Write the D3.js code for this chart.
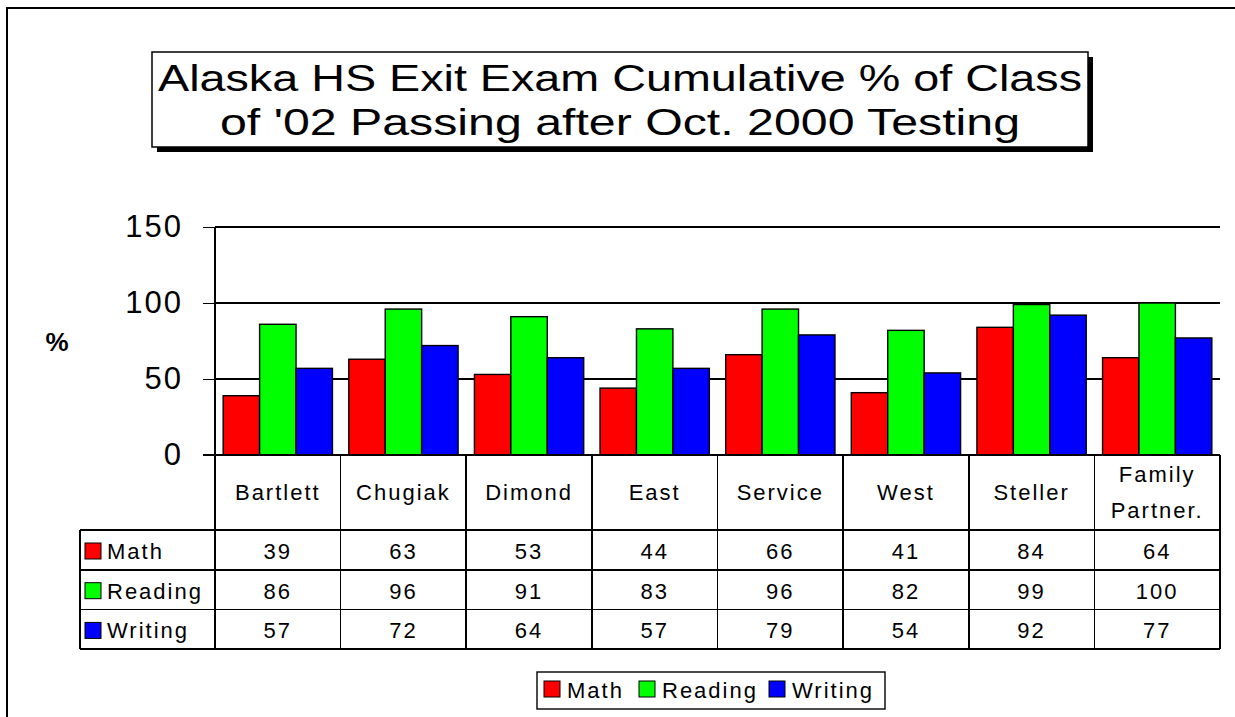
<!DOCTYPE html>
<html>
<head>
<meta charset="utf-8">
<title>Alaska HS Exit Exam</title>
<script src="https://cdn.jsdelivr.net/npm/d3@7"></script>
<style>
    html, body { margin: 0; padding: 0; background: #fff; }
    svg { display: block; font-family: "Liberation Sans", Arial, sans-serif; }
    line { shape-rendering: crispEdges; }
</style>
</head>
<body>
<div class="svg-container"></div>
<script>
// Data
const schools = ['Bartlett', 'Chugiak', 'Dimond', 'East', 'Service', 'West', 'Steller', 'Family Partner.'];
const subjects = ['Math', 'Reading', 'Writing'];
const mathValues = [39, 63, 53, 44, 66, 41, 84, 64];
const readingValues = [86, 96, 91, 83, 96, 82, 99, 100];
const writingValues = [57, 72, 64, 57, 79, 54, 92, 77];
const yTicks = [0, 50, 100, 150];
const titleLines = ['Alaska HS Exit Exam Cumulative % of Class', "of '02 Passing after Oct. 2000 Testing"];

/**
 * Chart Manager
 *          draws the column chart + its data table
 */
const chartManager = (() => {
    const SCREEN = Object.assign({}, {
        WIDTH: 1235,
        HEIGHT: 717
    });

    const PLOT = { LEFT: 215, RIGHT: 1220, TOP: 227, BOTTOM: 455 };
    const TABLE = { LEFT: 80, HEAD: 530, ROW: 39.7 };
    const COLORS = { Math: '#ff0000', Reading: '#00ff00', Writing: '#0000ff' };
    const FONT = 22;
    const LINE_W = 1.6;

    const seriesValues = {
        Math: mathValues,
        Reading: readingValues,
        Writing: writingValues
    };

    const x = d3.scaleBand()
                .domain(schools)
                .range([PLOT.LEFT, PLOT.RIGHT])
                .paddingInner(0.13)
                .paddingOuter(0.065);

    const xSub = d3.scaleBand()
                   .domain(subjects)
                   .range([0, x.bandwidth()]);

    const y = d3.scaleLinear()
                .domain([0, 150])
                .range([PLOT.BOTTOM, PLOT.TOP]);

    // column edges of the table (full steps, not the padded bands)
    const colLeft = (d) => x(d) - x.step() * x.paddingInner() / 2;

    const initSVG = () => {
        let svg = d3.select('.svg-container').append('svg')
                    .attr('width', SCREEN.WIDTH)
                    .attr('height', SCREEN.HEIGHT);

        // outer frame
        svg.append('rect')
           .attr('x', 7).attr('y', 8)
           .attr('width', SCREEN.WIDTH + 20).attr('height', SCREEN.HEIGHT + 20)
           .attr('fill', 'none')
           .attr('stroke', '#000')
           .attr('stroke-width', 2);
        return svg;
    };

    const drawTitle = (svg) => {
        let g = svg.append('g');
        g.append('rect')
         .attr('x', 157).attr('y', 57).attr('width', 936).attr('height', 95)
         .attr('fill', '#000');
        g.append('rect')
         .attr('x', 152).attr('y', 52).attr('width', 936).attr('height', 95)
         .attr('fill', '#fff').attr('stroke', '#000').attr('stroke-width', 1.5);

        const widths = [924, 800];
        g.selectAll('text.title')
         .data(titleLines)
         .enter()
         .append('text')
         .attr('class', 'title')
         .attr('x', 620)
         .attr('y', (d, i) => 91 + i * 44)
         .attr('text-anchor', 'middle')
         .attr('font-size', 37)
         .attr('textLength', (d, i) => widths[i])
         .attr('lengthAdjust', 'spacingAndGlyphs')
         .text(d => d);
    };

    const drawAxis = (svg) => {
        // grid lines
        svg.append('g')
           .selectAll('line')
           .data(yTicks.filter(t => t > 0))
           .enter()
           .append('line')
           .attr('x1', PLOT.LEFT).attr('x2', PLOT.RIGHT)
           .attr('y1', d => y(d)).attr('y2', d => y(d))
           .attr('stroke', '#000').attr('stroke-width', LINE_W);

        let axis = svg.append('g')
                      .attr('transform', `translate(${PLOT.LEFT},0)`)
                      .call(d3.axisLeft(y).tickValues(yTicks).tickSize(12).tickPadding(20).tickFormat(d3.format('d')));
        axis.select('.domain').attr('stroke', '#000').attr('stroke-width', LINE_W)
            .attr('shape-rendering', 'crispEdges')
            .attr('d', `M0,${PLOT.TOP}V${PLOT.BOTTOM}`);
        axis.selectAll('.tick line').attr('stroke', '#000').attr('stroke-width', LINE_W);
        axis.selectAll('.tick text')
            .attr('font-size', 31)
            .attr('letter-spacing', 2)
            .attr('fill', '#000')
            .attr('font-family', '"Liberation Sans", Arial, sans-serif');

        svg.append('text')
           .attr('x', 57).attr('y', 351)
           .attr('text-anchor', 'middle')
           .attr('font-size', 26)
           .attr('font-weight', 'bold')
           .text('%');
    };

    const drawBars = (svg) => {
        let groups = svg.append('g')
                        .selectAll('g')
                        .data(schools)
                        .enter()
                        .append('g')
                        .attr('transform', d => `translate(${x(d)},0)`);

        groups.selectAll('rect')
              .data((d, i) => subjects.map(s => ({ key: s, value: seriesValues[s][i] })))
              .enter()
              .append('rect')
              .attr('x', d => xSub(d.key))
              .attr('y', d => y(d.value))
              .attr('width', xSub.bandwidth())
              .attr('height', d => y(0) - y(d.value))
              .attr('fill', d => COLORS[d.key])
              .attr('stroke', '#000')
              .attr('stroke-width', 1.4);
    };

    const drawSwatch = (g, xPos, yPos, color) => {
        g.append('rect')
         .attr('x', xPos).attr('y', yPos)
         .attr('width', 16).attr('height', 16)
         .attr('fill', color)
         .attr('stroke', '#000')
         .attr('stroke-width', 1);
    };

    const drawTable = (svg) => {
        let g = svg.append('g');
        const rowTop = (i) => TABLE.HEAD + i * TABLE.ROW;
        const bottom = rowTop(subjects.length);

        // baseline under the bars
        g.append('line')
         .attr('x1', PLOT.LEFT - 12).attr('x2', PLOT.RIGHT)
         .attr('y1', PLOT.BOTTOM).attr('y2', PLOT.BOTTOM)
         .attr('stroke', '#000').attr('stroke-width', LINE_W);

        // horizontal rules
        g.selectAll('line.hrow')
         .data(d3.range(subjects.length + 1))
         .enter()
         .append('line')
         .attr('class', 'hrow')
         .attr('x1', TABLE.LEFT).attr('x2', PLOT.RIGHT)
         .attr('y1', d => rowTop(d)).attr('y2', d => rowTop(d))
         .attr('stroke', '#000').attr('stroke-width', LINE_W);

        // vertical rules
        const cols = schools.map(colLeft).concat([PLOT.RIGHT]);
        g.selectAll('line.vcol')
         .data(cols)
         .enter()
         .append('line')
         .attr('class', 'vcol')
         .attr('x1', d => d).attr('x2', d => d)
         .attr('y1', PLOT.BOTTOM).attr('y2', bottom)
         .attr('stroke', '#000').attr('stroke-width', LINE_W);
        g.append('line')
         .attr('x1', TABLE.LEFT).attr('x2', TABLE.LEFT)
         .attr('y1', TABLE.HEAD).attr('y2', bottom)
         .attr('stroke', '#000').attr('stroke-width', LINE_W);

        // header labels
        schools.forEach(s => {
            const words = s.split(' ');
            const cx = colLeft(s) + x.step() / 2;
            const base = words.length > 1 ? 482 : 500;
            words.forEach((w, j) => {
                g.append('text')
                 .attr('x', cx).attr('y', base + j * 36)
                 .attr('text-anchor', 'middle')
                 .attr('font-size', FONT)
                 .attr('letter-spacing', 2)
                 .text(w);
            });
        });

        // rows
        subjects.forEach((s, i) => {
            const top = rowTop(i);
            drawSwatch(g, 85, top + 13, COLORS[s]);
            g.append('text')
             .attr('x', 107).attr('y', top + 29)
             .attr('font-size', FONT)
             .attr('letter-spacing', 2)
             .text(s);

            g.selectAll(`text.v${s}`)
             .data(seriesValues[s])
             .enter()
             .append('text')
             .attr('class', `v${s}`)
             .attr('x', (d, k) => colLeft(schools[k]) + x.step() / 2)
             .attr('y', top + 29)
             .attr('text-anchor', 'middle')
             .attr('font-size', FONT)
             .attr('letter-spacing', 2)
             .text(d => d);
        });
    };

    const drawLegend = (svg) => {
        let g = svg.append('g');
        g.append('rect')
         .attr('x', 537).attr('y', 672).attr('width', 348).attr('height', 37)
         .attr('fill', '#fff').attr('stroke', '#000').attr('stroke-width', 1.4);

        const itemX = [544, 639, 769];
        subjects.forEach((s, i) => {
            drawSwatch(g, itemX[i], 681, COLORS[s]);
            g.append('text')
             .attr('x', itemX[i] + 23).attr('y', 698)
             .attr('font-size', FONT)
             .attr('letter-spacing', 2)
             .text(s);
        });
    };

    const init = () => {
        let svg = initSVG();
        drawTitle(svg);
        drawAxis(svg);
        drawBars(svg);
        drawTable(svg);
        drawLegend(svg);
    };

    return {
        init: init
    };
})();

chartManager.init();
</script>
</body>
</html>
